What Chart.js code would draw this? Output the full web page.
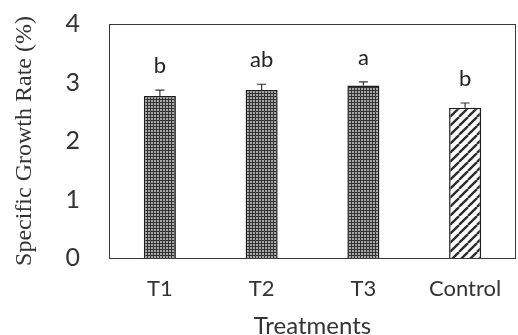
<!DOCTYPE html>
<html><head><meta charset="utf-8">
<script src="https://cdn.jsdelivr.net/npm/chart.js@4/dist/chart.umd.min.js"></script>
<style>html,body{margin:0;padding:0;background:#fff}#wrap{width:518px;height:335px}</style>
</head><body><div id="wrap"><canvas id="c" width="518" height="335"></canvas></div>
<script>
const categories = ['T1', 'T2', 'T3', 'Control'];
const growthRate = [2.77, 2.87, 2.95, 2.57];
const errors = [0.10, 0.10, 0.06, 0.08];
const letters = ['b', 'ab', 'a', 'b'];
const yTicks = [0, 1, 2, 3, 4];

function dotPattern() {
  const c = document.createElement('canvas'); c.width = 3; c.height = 3;
  const g = c.getContext('2d');
  g.fillStyle = '#333'; g.fillRect(0, 0, 3, 3);
  g.fillStyle = '#a8a8a8'; g.fillRect(1, 1, 2, 2);
  return g.createPattern(c, 'repeat');
}
function hatchPattern() {
  const s = 9;
  const c = document.createElement('canvas'); c.width = s; c.height = s;
  const g = c.getContext('2d');
  g.fillStyle = '#fff'; g.fillRect(0, 0, s, s);
  g.strokeStyle = '#2a2a2a'; g.lineWidth = 2.3;
  for (const o of [-s, 0, s]) {
    g.beginPath(); g.moveTo(o, s); g.lineTo(o + s, 0); g.stroke();
  }
  return g.createPattern(c, 'repeat');
}
const dots = dotPattern(), hatch = hatchPattern();

const extras = {
  id: 'extras',
  afterDatasetsDraw(chart) {
    const ctx = chart.ctx, y = chart.scales.y, meta = chart.getDatasetMeta(0);
    const a = chart.chartArea;
    ctx.save();
    ctx.strokeStyle = '#3a3a3a'; ctx.lineWidth = 1;
    ctx.strokeRect(Math.round(a.left) + 0.5, Math.round(a.top) + 0.5, Math.round(a.right - a.left) - 1, Math.round(a.bottom - a.top));
    ctx.strokeStyle = '#333'; ctx.lineWidth = 1.2;
    meta.data.forEach((bar, i) => {
      const x = bar.x;
      const yv = y.getPixelForValue(growthRate[i]);
      const yt = y.getPixelForValue(growthRate[i] + errors[i]);
      ctx.beginPath(); ctx.moveTo(x, yv); ctx.lineTo(x, yt);
      ctx.moveTo(x - 4.5, yt); ctx.lineTo(x + 4.5, yt); ctx.stroke();
      ctx.fillStyle = '#222';
      ctx.font = '22px Lato';
      ctx.textAlign = 'center'; ctx.textBaseline = 'alphabetic';
      ctx.fillText(letters[i], x, yt - 17);
    });
    ctx.restore();
  }
};

new Chart(document.getElementById('c'), {
  type: 'bar',
  data: {
    labels: categories,
    datasets: [{
      data: growthRate,
      backgroundColor: [dots, dots, dots, hatch],
      borderColor: '#1e1e1e',
      borderWidth: 1.5,
      borderSkipped: 'bottom',
      categoryPercentage: 1,
      barPercentage: 0.315
    }]
  },
  options: {
    responsive: false,
    animation: false,
    events: [],
    layout: { padding: { top: 24, right: 2, left: 0, bottom: 0 } },
    plugins: { legend: { display: false }, tooltip: { enabled: false } },
    scales: {
      x: {
        grid: { display: false, drawTicks: false },
        border: { display: false },
        ticks: { color: '#333', font: { family: 'Lato', size: 22 }, padding: 18 },
        title: { display: true, text: 'Treatments', color: '#333', font: { family: 'Lato', size: 24, lineHeight: 0.75 }, padding: { top: 0, bottom: 0 } },
        afterFit(s) { s.height = 77; s.paddingLeft = 0; s.paddingRight = 0; }
      },
      y: {
        min: 0, max: 4,
        afterBuildTicks(s) { s.ticks = yTicks.map(v => ({ value: v })); },
        grid: { display: false, drawTicks: false },
        border: { display: false },
        ticks: { color: '#333', font: { family: 'Lato', size: 25 }, padding: 29 },
        title: { display: true, text: 'Specific Growth Rate (%)', color: '#333', font: { family: 'Liberation Serif', size: 24 }, padding: { top: 10, bottom: 0 } },
        afterFit(s) { s.width = 109; s.paddingTop = 0; s.paddingBottom = 0; }
      }
    }
  },
  plugins: [extras]
});
</script></body></html>
